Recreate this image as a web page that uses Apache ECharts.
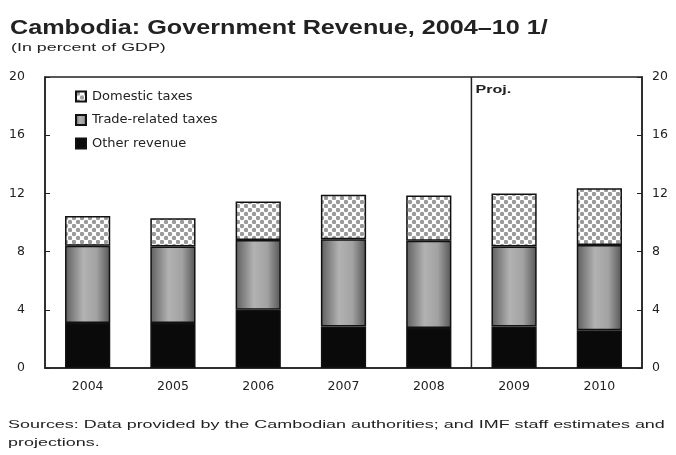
<!DOCTYPE html>
<html>
<head>
<meta charset="utf-8">
<script src="https://cdn.jsdelivr.net/npm/echarts@6/dist/echarts.min.js"></script>
<style>
  html, body { margin: 0; padding: 0; background: #fff; }
  #chart { width: 676px; height: 455px; }
</style>
</head>
<body>
<div id="chart"></div>
<script>
// Government revenue components, percent of GDP
const years = ['2004', '2005', '2006', '2007', '2008', '2009', '2010'];
const otherRevenue = [3.1, 3.1, 4.0, 2.85, 2.75, 2.85, 2.6];
const tradeTaxes = [5.3, 5.25, 4.8, 6.0, 6.0, 5.5, 5.85];
const domesticTaxes = [2.05, 1.95, 2.65, 3.05, 3.1, 3.65, 3.9];
const yTicks = [0, 4, 8, 12, 16, 20];
const projStart = '2009';

// dotted fill for domestic taxes
function dotPattern() {
  const c = document.createElement('canvas');
  c.width = 8; c.height = 8;
  const g = c.getContext('2d');
  g.fillStyle = '#ffffff';
  g.fillRect(0, 0, 8, 8);
  g.fillStyle = '#9a9a9a';
  [[2, 2], [6, 6]].forEach(([x, y]) => {
    g.beginPath(); g.arc(x, y, 2.2, 0, Math.PI * 2); g.fill();
  });
  return c;
}

const tradeFill = new echarts.graphic.LinearGradient(0, 0, 1, 0, [
  { offset: 0, color: '#5e5e5e' },
  { offset: 0.4, color: '#b2b2b2' },
  { offset: 0.7, color: '#a2a2a2' },
  { offset: 1, color: '#555555' }
]);

const FONT = 'Liberation Sans, Arial, sans-serif';
const WIDE = 'DejaVu Sans, sans-serif';
const INK = '#222';
const chart = echarts.init(document.getElementById('chart'), null, { renderer: 'canvas' });

const border = { borderColor: '#111', borderWidth: 1.5 };
const axisY = (pos) => ({
  type: 'value', position: pos, min: 0, max: 20, interval: 4,
  axisLine: { show: true, lineStyle: { color: INK, width: 1.5 } },
  axisTick: { show: true, inside: true, length: 5, lineStyle: { color: INK } },
  splitLine: { show: false },
  axisLabel: {
    color: INK, fontFamily: WIDE, fontSize: 12.5, margin: pos === 'left' ? 20 : 10,
    formatter: (v) => yTicks.includes(v) ? String(v) : ''
  }
});

// wide-set text block
const wideText = (text, x, y, size, weight, sx, lineHeight) => ({
  type: 'text', x: x, y: y, scaleX: sx, scaleY: 1, originX: 0, originY: 0,
  style: { text: text, fontFamily: FONT, fontSize: size, fontWeight: weight, fill: INK,
           lineHeight: lineHeight || size * 1.2, verticalAlign: 'middle' }
});

chart.setOption({
  animation: false,
  backgroundColor: '#fff',
  grid: { left: 45, right: 34, top: 77, bottom: 87, show: true, borderColor: INK, borderWidth: 1.5 },
  legend: {
    orient: 'vertical', left: 75, top: 90, padding: 0, itemGap: 10.5, itemWidth: 10, itemHeight: 10,
    icon: 'rect',
    data: ['Domestic taxes', 'Trade-related taxes', 'Other revenue'],
    textStyle: { fontFamily: WIDE, fontSize: 13, color: INK, padding: [0, 0, 0, 1] }
  },
  xAxis: {
    type: 'category', data: years,
    axisLine: { lineStyle: { color: INK, width: 1.5 } },
    axisTick: { inside: true, length: 5, lineStyle: { color: INK } },
    axisLabel: { color: INK, fontFamily: WIDE, fontSize: 12.5, margin: 12 }
  },
  yAxis: [axisY('left'), axisY('right')],
  series: [
    { name: 'Other revenue', type: 'bar', stack: 'rev', data: otherRevenue, barWidth: '53%',
      itemStyle: Object.assign({ color: '#0a0a0a' }, border) },
    { name: 'Trade-related taxes', type: 'bar', stack: 'rev', data: tradeTaxes,
      itemStyle: Object.assign({ color: tradeFill }, border) },
    { name: 'Domestic taxes', type: 'bar', stack: 'rev', data: domesticTaxes,
      itemStyle: Object.assign({ color: { image: dotPattern(), repeat: 'repeat' } }, border) }
  ]
});

// projection divider halfway between the last actual and first projected year
const idx = years.indexOf(projStart);
const xa = chart.convertToPixel({ xAxisIndex: 0 }, years[idx - 1]);
const xb = chart.convertToPixel({ xAxisIndex: 0 }, years[idx]);
const yTop = chart.convertToPixel({ yAxisIndex: 0 }, 20);
const yBot = chart.convertToPixel({ yAxisIndex: 0 }, 0);
const xDiv = (xa + xb) / 2;
chart.setOption({
  graphic: [
    wideText('Cambodia: Government Revenue, 2004\u201310 1/', 10, 28, 21, 'bold', 1.2),
    wideText('(In percent of GDP)', 11, 48, 10.5, 'normal', 1.7),
    wideText('Sources: Data provided by the Cambodian authorities; and IMF staff estimates and\nprojections.',
      8, 434, 11.5, 'normal', 1.56, 18),
    { type: 'line', shape: { x1: xDiv, y1: yTop, x2: xDiv, y2: yBot },
      style: { stroke: INK, lineWidth: 1.5 } },
    wideText('Proj.', xDiv + 4, yTop + 13, 11.5, 'bold', 1.4)
  ]
});
</script>
</body>
</html>
